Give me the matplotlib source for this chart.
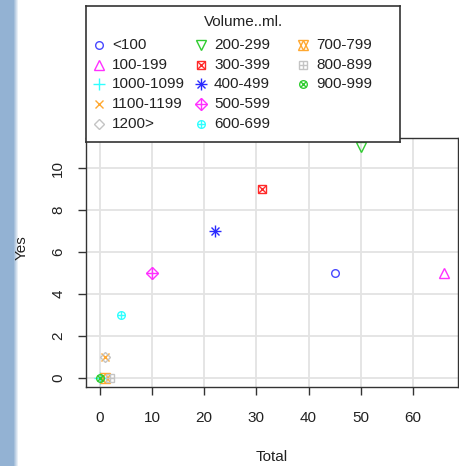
import numpy as np
import matplotlib
matplotlib.use("Agg")
import matplotlib.pyplot as plt

plt.rcParams['font.family'] = ['Liberation Sans', 'DejaVu Sans']

# ---- data ----
groups = ['<100', '100-199', '1000-1099', '1100-1199', '1200>', '200-299',
          '300-399', '400-499', '500-599', '600-699', '700-799', '800-899', '900-999']
total = [45, 66, 0, 1, 1, 50, 31, 22, 10, 4, 1, 2, 0]
yes = [5, 5, 0, 1, 1, 11, 9, 7, 5, 3, 0, 0, 0]
pchs = [1, 2, 3, 4, 5, 6, 7, 8, 9, 10, 11, 12, 13]
colors = ['#4848ff', '#ff30ff', '#30ffff', '#ffa830', '#c4c4c4', '#30cc30',
          '#ff2a2a', '#2a2aff', '#ff30ff', '#30ffff', '#ffa830', '#c4c4c4', '#30cc30']
legend_title = 'Volume..ml.'
x_ticks = [0, 10, 20, 30, 40, 50, 60]
y_ticks = [0, 2, 4, 6, 8, 10]

W, H = 459, 466
fig = plt.figure(figsize=(W / 100, H / 100), dpi=100)

# pch component markers
PCH = {
    1: [('o', 5.5)],
    2: [('^', 7)],
    3: [('+', 8)],
    4: [('x', 6)],
    5: [('D', 5.5)],
    6: [('v', 7)],
    7: [('s', 5.5), ('x', 5.5)],
    8: [('+', 8), ('x', 6)],
    9: [('D', 6), ('+', 8)],
    10: [('o', 5.5), ('+', 5.5)],
    11: [('^', 7), ('v', 7)],
    12: [('s', 5.5), ('+', 5.5)],
    13: [('o', 5.5), ('x', 4)],
}


def draw_pch(axis, x, y, pch, color, z=3, **kw):
    for m, s in PCH[pch]:
        axis.plot([x], [y], linestyle='none', marker=m, markersize=s,
                  markerfacecolor='none', markeredgecolor=color,
                  markeredgewidth=1.0, zorder=z, clip_on=False, **kw)


# left blue bar (screenshot edge)
bar = fig.add_axes([0, 0, 19 / W, 1])
grad = np.ones((2, 19, 3))
base = np.array([0x93, 0xb2, 0xd3]) / 255.0
for i in range(19):
    t = 0.0 if i < 14 else min(1.0, (i - 13) / 5.0)
    grad[:, i, :] = base * (1 - t) + np.array([1, 1, 1]) * t
bar.imshow(grad, aspect='auto', extent=[0, 1, 0, 1])
bar.axis('off')

# main axes
L, R, T, B = 86, 458, 138, 387
ax = fig.add_axes([L / W, 1 - B / H, (R - L) / W, (B - T) / H])
ax.set_xlim(-2.64, 68.64)
ax.set_ylim(-0.44, 11.44)
ax.set_xticks(x_ticks)
ax.set_yticks(y_ticks)
ax.grid(True, color='#e3e3e3', linewidth=1.3, zorder=0)
ax.set_axisbelow(True)
for sp in ax.spines.values():
    sp.set_color('#333333')
    sp.set_linewidth(1.0)
ax.tick_params(direction='out', length=6, width=1.0, color='#333333',
               labelsize=11, labelcolor='#222222')
ax.tick_params(axis='x', pad=11)
ax.tick_params(axis='y', pad=9)
for lab in ax.get_yticklabels():
    lab.set_rotation(90)
    lab.set_va('center')

for g, xv, yv, p, c in zip(groups, total, yes, pchs, colors):
    draw_pch(ax, xv, yv, p, c)

fig.text(272 / W, 1 - 457 / H, 'Total', ha='center', va='center',
         fontsize=11, color='#222222')
fig.text(22 / W, 1 - 248 / H, 'Yes', ha='center', va='center', rotation=90,
         fontsize=11, color='#222222')

# legend box
LL, LR, LT, LB = 86, 400, 6, 142
lax = fig.add_axes([LL / W, 1 - LB / H, (LR - LL) / W, (LB - LT) / H])
lax.set_zorder(5)
lax.set_xlim(LL, LR)
lax.set_ylim(LB, LT)
lax.set_xticks([])
lax.set_yticks([])
lax.set_facecolor('white')
for sp in lax.spines.values():
    sp.set_color('#333333')
    sp.set_linewidth(1.2)
lax.text((LL + LR) / 2, 22, legend_title, ha='center', va='center',
         fontsize=11, color='#222222')
row_y = [45, 65, 84.5, 104, 123.5]
col_marker_x = [99, 201, 303]
col_text_x = [112, 214, 316]
for i, (g, p, c) in enumerate(zip(groups, pchs, colors)):
    col, row = divmod(i, 5)
    draw_pch(lax, col_marker_x[col], row_y[row], p, c, z=6)
    lax.text(col_text_x[col], row_y[row], g, ha='left', va='center',
             fontsize=11, color='#222222')

fig.savefig('out.png', dpi=100)
